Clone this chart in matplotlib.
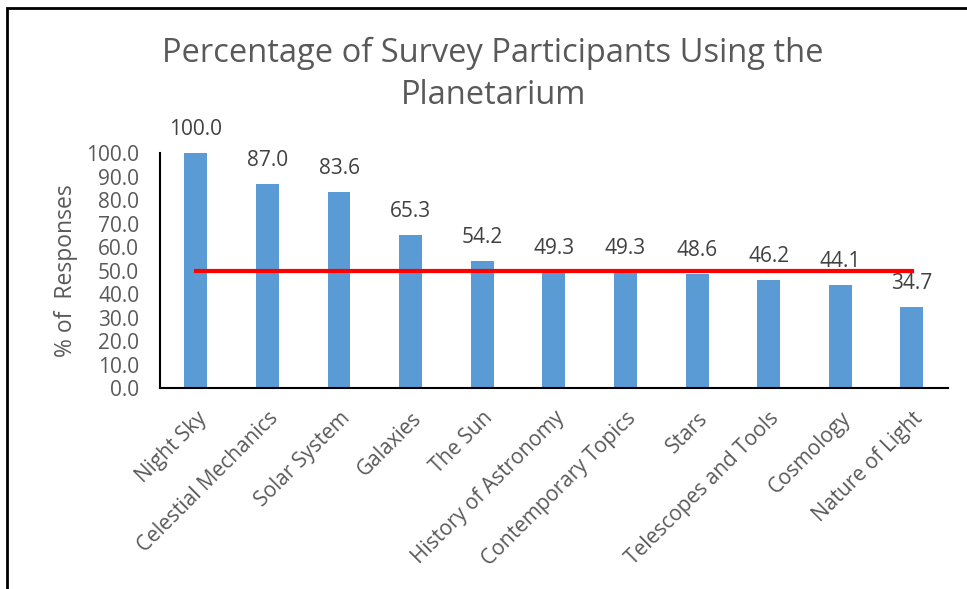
import matplotlib
matplotlib.use('Agg')
import matplotlib.pyplot as plt
from matplotlib.patches import Rectangle

categories = ['Night Sky', 'Celestial Mechanics', 'Solar System', 'Galaxies', 'The Sun',
              'History of Astronomy', 'Contemporary Topics', 'Stars', 'Telescopes and Tools',
              'Cosmology', 'Nature of Light']
pct = [100.0, 87.0, 83.6, 65.3, 54.2, 49.3, 49.3, 48.6, 46.2, 44.1, 34.7]
ref_level = [50, 50]

plt.rcParams['font.family'] = ['Open Sans', 'DejaVu Sans']

fig = plt.figure(figsize=(9.67, 5.89), dpi=100)
ax = fig.add_axes([0.1655, 0.341, 0.8145, 0.399])

x = range(len(categories))
ax.bar(x, pct, width=0.32, color='#5B9BD5')
for i, v in zip(x, pct):
    ax.text(i, v + 5.5, '%.1f' % v, ha='center', va='bottom', fontsize=15, color='#404040')

ax.plot([0, len(categories) - 1], ref_level, color='#FF0000', lw=3)

ax.set_xlim(-0.5, len(categories) - 0.5)
ax.set_ylim(0, 100)
ax.set_yticks(range(0, 101, 10))
ax.set_yticklabels(['%.1f' % t for t in range(0, 101, 10)], fontsize=15, color='#595959')
ax.set_xticks(list(x))
ax.set_xticklabels(categories, rotation=45, ha='right', rotation_mode='anchor',
                   fontsize=15, color='#595959')
ax.tick_params(axis='y', length=0, pad=15)
ax.tick_params(axis='x', length=0, pad=14)
ax.spines['top'].set_visible(False)
ax.spines['right'].set_visible(False)
ax.spines['left'].set_color('black')
ax.spines['bottom'].set_color('black')
ax.spines['left'].set_linewidth(1.5)
ax.spines['bottom'].set_linewidth(1.5)
ax.set_ylabel('% of  Responses', fontsize=16.5, color='#595959', labelpad=6)

fig.text(0.51, 0.874, 'Percentage of Survey Participants Using the\nPlanetarium',
         ha='center', va='center', fontsize=23.5, color='#595959', linespacing=1.38)

# outer border (top and left edges visible)
fig.add_artist(Rectangle((0.007, -0.01), 1.1, 0.997, transform=fig.transFigure,
                         fill=False, edgecolor='black', lw=2))

fig.savefig('out.png', dpi=100)
